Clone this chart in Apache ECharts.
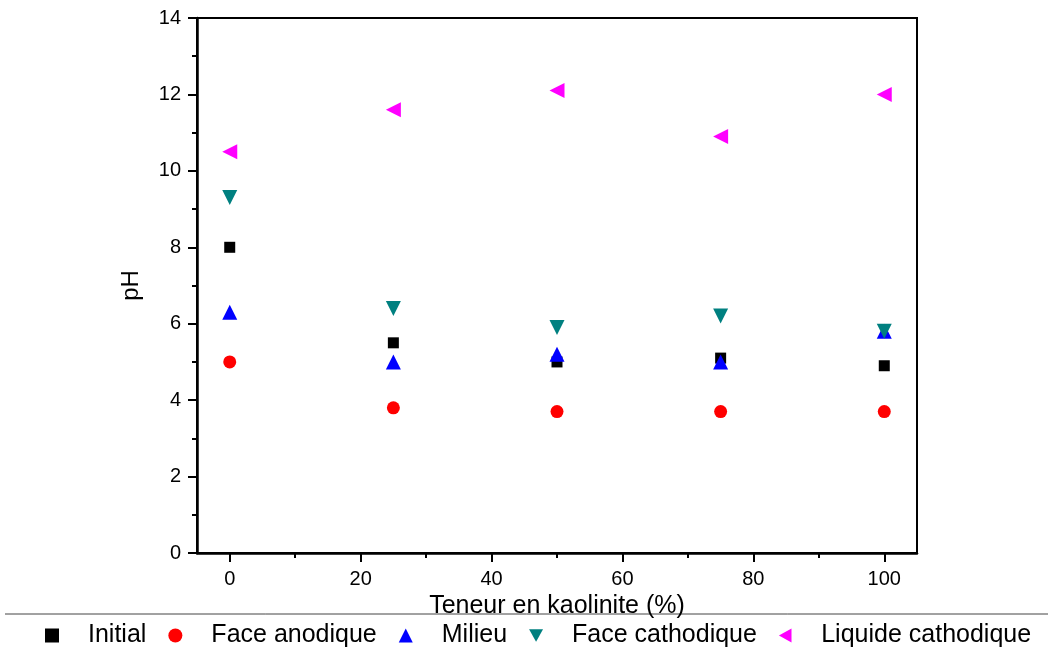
<!DOCTYPE html>
<html>
<head>
<meta charset="utf-8">
<script src="https://cdn.jsdelivr.net/npm/echarts@6/dist/echarts.min.js"></script>
<style>
  html, body { margin: 0; padding: 0; background: #fff; }
  #main { width: 1048px; height: 647px; }
</style>
</head>
<body>
<div id="main"></div>
<script>
// teneur en kaolinite (%)
var teneur = [0, 25, 50, 75, 100];
// pH values
var initial = [8.0, 5.5, 5.0, 5.1, 4.9];
var faceAnodique = [5.0, 3.8, 3.7, 3.7, 3.7];
var milieu = [6.3, 5.0, 5.2, 5.0, 5.8];
var faceCathodique = [9.3, 6.4, 5.9, 6.2, 5.8];
var liquideCathodique = [10.5, 11.6, 12.1, 10.9, 12.0];

var majorX = [0, 20, 40, 60, 80, 100];
var minorX = [10, 30, 50, 70, 90];

function pairs(ys) {
    return teneur.map(function (x, i) { return [x, ys[i]]; });
}

const chart = echarts.init(document.getElementById('main'), null, { renderer: 'canvas' });

var font = 'Liberation Sans, Arial, sans-serif';
var triDown = 'path://M0,0L10,0L5,9Z';
var triLeft = 'path://M9,0L9,10L0,5Z';

var option = {
    animation: false,
    textStyle: { fontFamily: font },
    grid: {
        left: 197, right: 131, top: 18, bottom: 94,
        show: true, borderColor: '#000', borderWidth: 2, backgroundColor: 'transparent'
    },
    legend: {
        top: 618,
        left: 40,
        itemGap: 22,
        itemWidth: 14,
        itemHeight: 14,
        textStyle: { fontSize: 25, color: '#000', fontFamily: font, padding: [0, 0, 0, 24] },
        data: [
            { name: 'Initial', icon: 'rect', itemStyle: { borderWidth: 0 } },
            { name: 'Face anodique', icon: 'circle' },
            { name: 'Milieu', icon: 'triangle' },
            { name: 'Face cathodique', icon: triDown },
            { name: 'Liquide cathodique', icon: triLeft }
        ]
    },
    graphic: [{
        type: 'line',
        z: -1,
        shape: { x1: 5, y1: 614, x2: 1048, y2: 614 },
        style: { stroke: '#444', lineWidth: 1 }
    }],
    xAxis: [{
        type: 'value',
        min: -5, max: 105,
        name: 'Teneur en kaolinite (%)',
        nameLocation: 'middle',
        nameGap: 37,
        nameTextStyle: { fontSize: 25, color: '#000' },
        axisLine: { onZero: false, lineStyle: { color: '#000', width: 2.5 } },
        axisTick: { show: true, length: 9, lineStyle: { color: '#000', width: 2 }, customValues: majorX },
        axisLabel: { fontSize: 20, color: '#000', margin: 16, customValues: majorX },
        splitLine: { show: false }
    }, {
        type: 'value',
        position: 'bottom',
        min: -5, max: 105,
        axisLine: { show: false, onZero: false },
        axisTick: { show: true, length: 5, lineStyle: { color: '#000', width: 2 }, customValues: minorX },
        axisLabel: { show: false },
        splitLine: { show: false }
    }],
    yAxis: {
        type: 'value',
        min: 0, max: 14, interval: 2,
        name: 'pH',
        nameLocation: 'middle',
        nameGap: 54,
        nameTextStyle: { fontSize: 24, color: '#000' },
        axisLine: { show: true, onZero: false, lineStyle: { color: '#000', width: 2.5 } },
        axisTick: { show: true, length: 9, lineStyle: { color: '#000', width: 2 } },
        minorTick: { show: true, splitNumber: 2, length: 5, lineStyle: { color: '#000', width: 2 } },
        axisLabel: { fontSize: 20, color: '#000', margin: 16 },
        splitLine: { show: false }
    },
    series: [{
        name: 'Initial', type: 'scatter', data: pairs(initial),
        symbol: 'rect', symbolSize: 11,
        itemStyle: { color: '#000', opacity: 1 }
    }, {
        name: 'Face anodique', type: 'scatter', data: pairs(faceAnodique),
        symbol: 'circle', symbolSize: 13,
        itemStyle: { color: '#ff0000', opacity: 1 }
    }, {
        name: 'Milieu', type: 'scatter', data: pairs(milieu),
        symbol: 'triangle', symbolSize: 15,
        itemStyle: { color: '#0000ff', opacity: 1 }
    }, {
        name: 'Face cathodique', type: 'scatter', data: pairs(faceCathodique),
        symbol: 'triangle', symbolSize: 15, symbolRotate: 180,
        itemStyle: { color: '#008080', opacity: 1 }
    }, {
        name: 'Liquide cathodique', type: 'scatter', data: pairs(liquideCathodique),
        symbol: 'triangle', symbolSize: 15, symbolRotate: 90,
        itemStyle: { color: '#ff00ff', opacity: 1 }
    }]
};

chart.setOption(option);
</script>
</body>
</html>
